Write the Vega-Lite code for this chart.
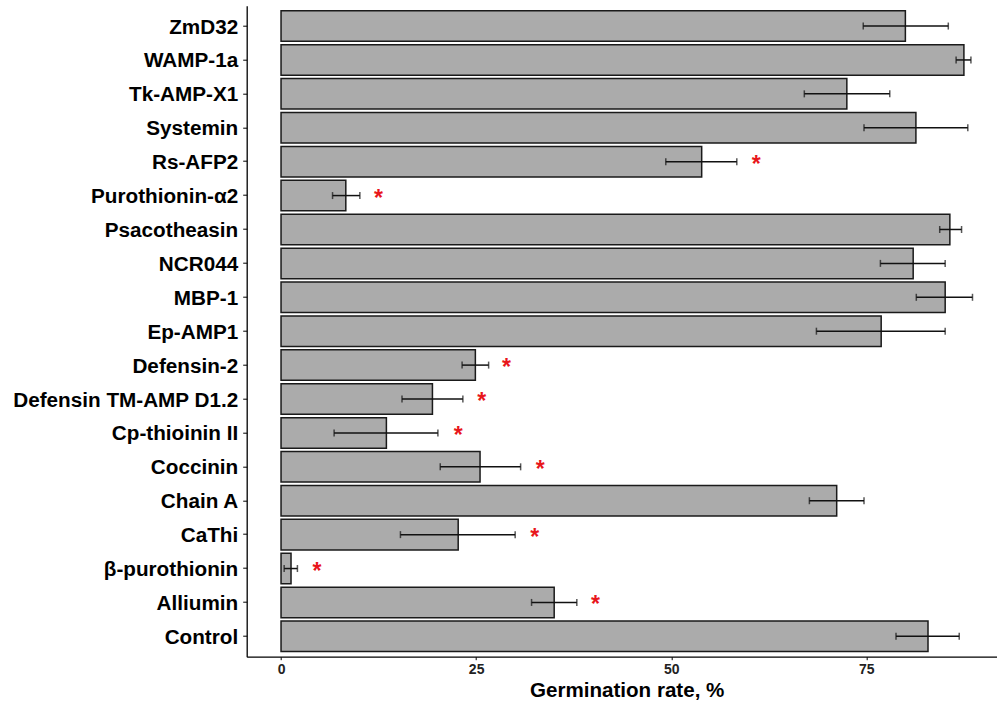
{
  "$schema": "https://vega.github.io/schema/vega-lite/v6.json",
  "autosize": {"type": "none"},
  "padding": {"left": 246.7, "top": 5.7, "right": 0, "bottom": 50},
  "width": 750,
  "height": 651,
  "background": "white",
  "config": {
    "view": {"stroke": null},
    "font": "Liberation Sans"
  },
  "data": {
    "values": [
      {"peptide": "ZmD32", "rate": 80.0, "lo": 74.6, "hi": 85.5, "star": null},
      {"peptide": "WAMP-1a", "rate": 87.5, "lo": 86.5, "hi": 88.4, "star": null},
      {"peptide": "Tk-AMP-X1", "rate": 72.5, "lo": 67.05, "hi": 78.0, "star": null},
      {"peptide": "Systemin", "rate": 81.35, "lo": 74.7, "hi": 88.0, "star": null},
      {"peptide": "Rs-AFP2", "rate": 53.9, "lo": 49.3, "hi": 58.4, "star": 60.9},
      {"peptide": "Purothionin-α2", "rate": 8.3, "lo": 6.6, "hi": 10.1, "star": 12.5},
      {"peptide": "Psacotheasin", "rate": 85.7, "lo": 84.4, "hi": 87.2, "star": null},
      {"peptide": "NCR044", "rate": 81.0, "lo": 76.8, "hi": 85.1, "star": null},
      {"peptide": "MBP-1", "rate": 85.1, "lo": 81.4, "hi": 88.6, "star": null},
      {"peptide": "Ep-AMP1", "rate": 76.9, "lo": 68.6, "hi": 85.1, "star": null},
      {"peptide": "Defensin-2", "rate": 24.9, "lo": 23.2, "hi": 26.6, "star": 28.9},
      {"peptide": "Defensin TM-AMP D1.2", "rate": 19.4, "lo": 15.5, "hi": 23.3, "star": 25.7},
      {"peptide": "Cp-thioinin II", "rate": 13.5, "lo": 6.8, "hi": 20.1, "star": 22.7},
      {"peptide": "Coccinin", "rate": 25.5, "lo": 20.4, "hi": 30.7, "star": 33.2},
      {"peptide": "Chain A", "rate": 71.2, "lo": 67.7, "hi": 74.7, "star": null},
      {"peptide": "CaThi", "rate": 22.7, "lo": 15.3, "hi": 30.0, "star": 32.5},
      {"peptide": "β-purothionin", "rate": 1.28, "lo": 0.4, "hi": 2.1, "star": 4.6},
      {"peptide": "Alliumin", "rate": 35.0, "lo": 32.1, "hi": 37.9, "star": 40.3},
      {"peptide": "Control", "rate": 82.9, "lo": 78.8, "hi": 86.9, "star": null}
    ]
  },
  "encoding": {
    "y": {
      "field": "peptide",
      "type": "nominal",
      "sort": null,
      "scale": {"paddingInner": 0.1, "paddingOuter": 0.15},
      "axis": {
        "title": null,
        "domainColor": "black",
        "domainWidth": 1.3,
        "tickColor": "black",
        "tickWidth": 1,
        "tickSize": 4,
        "labelFont": "Liberation Sans",
        "labelFontWeight": "bold",
        "labelFontSize": 20.7,
        "labelColor": "black",
        "labelPadding": 5,
        "labelOffset": 1.5,
        "labelLimit": 400
      }
    }
  },
  "layer": [
    {
      "mark": {"type": "bar", "fill": "#ABABAB", "stroke": "#1a1a1a", "strokeWidth": 1.5},
      "encoding": {
        "x": {
          "field": "rate",
          "type": "quantitative",
          "scale": {"domain": [-4.4, 91.7], "nice": false, "zero": false},
          "axis": {
            "title": "Germination rate, %",
            "values": [0, 25, 50, 75],
            "grid": false,
            "domainColor": "black",
            "domainWidth": 1.3,
            "tickColor": "black",
            "tickWidth": 1,
            "tickSize": 3,
            "labelFont": "Liberation Sans",
            "labelFontWeight": "bold",
            "labelFontSize": 14,
            "labelColor": "#222",
            "labelPadding": 3,
            "titleFont": "Liberation Sans",
            "titleFontWeight": "bold",
            "titleFontSize": 20.6,
            "titleColor": "black",
            "titleX": 380,
            "titleY": 39.5,
            "titleBaseline": "alphabetic"
          }
        },
        "x2": {"datum": 0}
      }
    },
    {
      "mark": {"type": "rule", "color": "#111", "strokeWidth": 1.5},
      "encoding": {
        "x": {"field": "lo", "type": "quantitative"},
        "x2": {"field": "hi"}
      }
    },
    {
      "mark": {"type": "tick", "color": "#111", "thickness": 1.5, "size": 7},
      "encoding": {
        "x": {"field": "lo", "type": "quantitative"}
      }
    },
    {
      "mark": {"type": "tick", "color": "#111", "thickness": 1.5, "size": 7},
      "encoding": {
        "x": {"field": "hi", "type": "quantitative"}
      }
    },
    {
      "transform": [{"filter": "datum.star != null"}],
      "mark": {"type": "text", "text": "*", "color": "#E8161B", "fontSize": 23, "fontWeight": "bold", "font": "Liberation Sans", "baseline": "alphabetic", "dy": 10},
      "encoding": {
        "x": {"field": "star", "type": "quantitative"}
      }
    }
  ]
}
